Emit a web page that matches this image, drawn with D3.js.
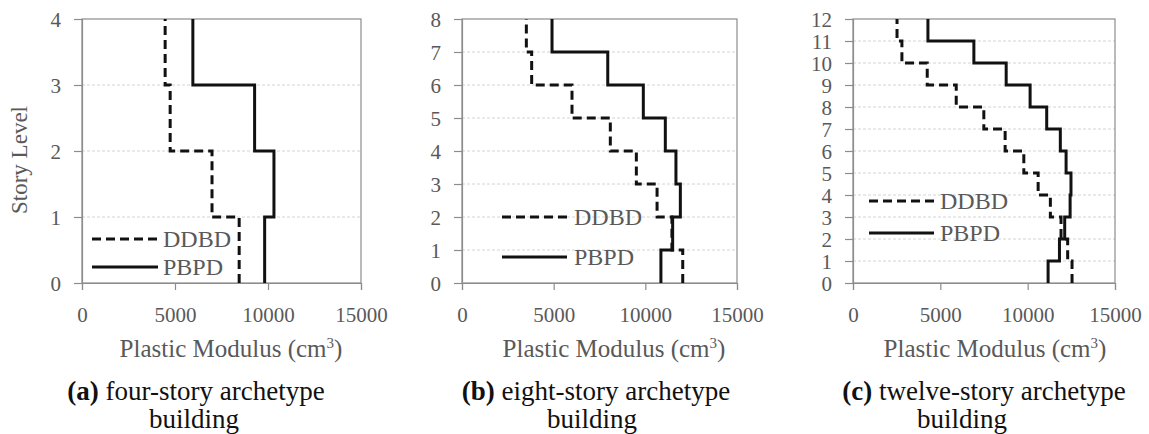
<!DOCTYPE html>
<html>
<head>
<meta charset="utf-8">
<script src="https://cdn.jsdelivr.net/npm/d3@7"></script>
<style>
  html, body { margin: 0; padding: 0; background: #fff; }
  svg { display: block; }
  text { font-family: "Liberation Serif", "Times New Roman", serif; }
</style>
</head>
<body>
<svg id="chart" width="1149" height="434" font-family="Liberation Serif"></svg>
<script>
// Plastic modulus per story (story 1 at the bottom), cm^3
const ddbdFour = [8450, 6990, 4740, 4470];
const pbpdFour = [9820, 10320, 9280, 5960];

const ddbdEight = [12040, 11450, 10640, 9510, 8090, 6000, 3800, 3510];
const pbpdEight = [10850, 11490, 11910, 11670, 11090, 9890, 7950, 4910];

const ddbdTwelve = [12540, 12290, 11910, 11300, 10600, 9780, 8710, 7490, 5910, 4250, 2800, 2520];
const pbpdTwelve = [11170, 11820, 12120, 12430, 12480, 12200, 11870, 11090, 10140, 8770, 6920, 4290];

const xTickValues = [0, 5000, 10000, 15000];
const seriesNames = ["DDBD", "PBPD"];
const captionTags = ["(a)", "(b)", "(c)"];
const captionLines = [
  ["four-story archetype", "building"],
  ["eight-story archetype", "building"],
  ["twelve-story archetype", "building"]
];
const xTitle = "Plastic Modulus (cm";
const yTitle = "Story Level";

const svg = d3.select("#chart");
const grey = "#595959";
const axisGrey = "#8c8c8c";
const serif = "'Liberation Serif', 'Times New Roman', serif";

const panels = [
  { ddbd: ddbdFour, pbpd: pbpdFour, left: 82, right: 361, titleX: 231,
    legend: { x0: 92, x1: 158, y: [239, 267], tx: 163 },
    cap: [196, 194] },
  { ddbd: ddbdEight, pbpd: pbpdEight, left: 462, right: 737, titleX: 614,
    legend: { x0: 502, x1: 567, y: [217, 257], tx: 574 },
    cap: [596, 592] },
  { ddbd: ddbdTwelve, pbpd: pbpdTwelve, left: 853, right: 1115, titleX: 995,
    legend: { x0: 869, x1: 934, y: [201, 233], tx: 940 },
    cap: [984, 962] }
];
const plotTop = 19, plotBottom = 283;

panels.forEach((p, i) => {
  const n = p.ddbd.length;
  const x = d3.scaleLinear().domain([0, 15000]).range([p.left, p.right]);
  const y = d3.scaleLinear().domain([0, n]).range([plotBottom, plotTop]);
  const g = svg.append("g");

  // horizontal gridlines
  g.selectAll("line.grid")
    .data(d3.range(1, n))
    .join("line")
    .attr("class", "grid")
    .attr("x1", p.left).attr("x2", p.right)
    .attr("y1", d => y(d)).attr("y2", d => y(d))
    .attr("stroke", "#d4d4d4").attr("stroke-width", 1)
    .attr("stroke-dasharray", "3,2");

  // plot frame
  g.append("rect")
    .attr("x", p.left).attr("y", plotTop)
    .attr("width", p.right - p.left).attr("height", plotBottom - plotTop)
    .attr("fill", "none").attr("stroke", axisGrey).attr("stroke-width", 1.2);

  // axes
  const xAxis = d3.axisBottom(x).tickValues(xTickValues).tickSize(7).tickPadding(17)
    .tickFormat(d3.format("d"));
  const gx = g.append("g").attr("transform", `translate(0,${plotBottom})`).call(xAxis);
  const yAxis = d3.axisLeft(y).tickValues(d3.range(0, n + 1)).tickSize(8).tickPadding(13)
    .tickFormat(d3.format("d"));
  const gy = g.append("g").attr("transform", `translate(${p.left},0)`).call(yAxis);
  [gx, gy].forEach(a => {
    a.attr("font-family", serif);
    a.select(".domain").attr("stroke", axisGrey).attr("stroke-width", 1.2);
    a.selectAll(".tick line").attr("stroke", axisGrey).attr("stroke-width", 1.2);
    a.selectAll(".tick text")
      .attr("fill", grey)
      .style("font-family", serif)
      .style("font-size", "21px");
  });
  gy.selectAll(".tick text").attr("dy", "0.34em");

  // step profiles
  const stepPoints = vals => vals.flatMap((v, k) => [[v, k], [v, k + 1]]);
  const line = d3.line().x(d => x(d[0])).y(d => y(d[1]));
  [p.ddbd, p.pbpd].forEach((vals, s) => {
    g.append("path")
      .attr("d", line(stepPoints(vals)))
      .attr("fill", "none").attr("stroke", "#111")
      .attr("stroke-width", 3)
      .attr("stroke-dasharray", s === 0 ? "9,5" : null);
  });

  // legend
  seriesNames.forEach((name, s) => {
    const ly = p.legend.y[s];
    g.append("line")
      .attr("x1", p.legend.x0).attr("x2", p.legend.x1)
      .attr("y1", ly).attr("y2", ly)
      .attr("stroke", "#111").attr("stroke-width", 3)
      .attr("stroke-dasharray", s === 0 ? "9,5" : null);
    g.append("text")
      .attr("x", p.legend.tx).attr("y", ly).attr("dy", "0.35em")
      .attr("fill", grey).style("font-size", "24px")
      .text(name);
  });

  // x axis title with superscript
  const title = g.append("text")
    .attr("x", p.titleX).attr("y", 357)
    .attr("text-anchor", "middle").attr("fill", grey).style("font-size", "25px");
  title.append("tspan").text(xTitle);
  title.append("tspan").attr("dy", -9).style("font-size", "15px").text("3");
  title.append("tspan").attr("dy", 9).text(")");

  // caption
  const cap = g.append("text")
    .attr("x", p.cap[0]).attr("y", 400)
    .attr("text-anchor", "middle").attr("fill", "#111").style("font-size", "27px");
  cap.append("tspan").style("font-weight", "bold").text(captionTags[i]);
  cap.append("tspan").text(" " + captionLines[i][0]);
  g.append("text")
    .attr("x", p.cap[1]).attr("y", 428)
    .attr("text-anchor", "middle").attr("fill", "#111").style("font-size", "27px")
    .text(captionLines[i][1]);
});

// y axis title
svg.append("text")
  .attr("transform", "translate(27,160) rotate(-90)")
  .attr("text-anchor", "middle").attr("fill", grey).style("font-size", "23px")
  .text(yTitle);
</script>
</body>
</html>
